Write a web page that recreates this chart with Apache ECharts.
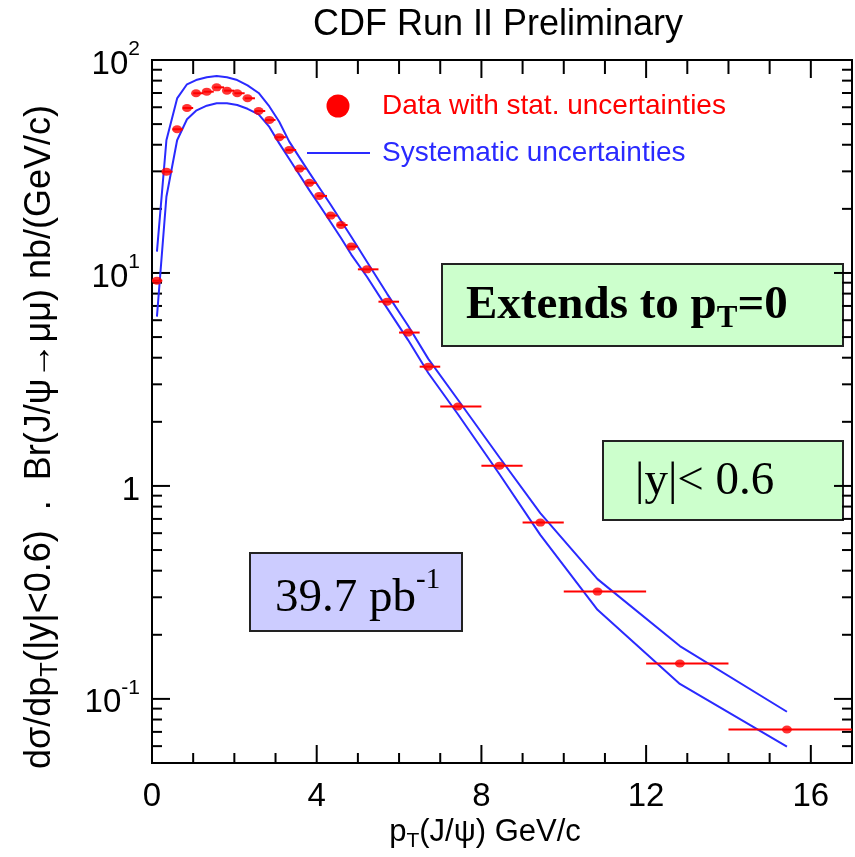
<!DOCTYPE html>
<html><head><meta charset="utf-8">
<script src="https://cdn.jsdelivr.net/npm/echarts@6/dist/echarts.min.js"></script>
<style>html,body{margin:0;padding:0;background:#fff}#c{width:855px;height:857px}</style>
</head><body><div id="c"></div>
<script>
// ---- data ----
const ptMean = [0.12,0.35,0.61,0.85,1.07,1.33,1.57,1.82,2.07,2.32,2.59,2.85,3.09,3.33,3.58,3.82,4.06,4.34,4.59,4.84,5.22,5.71,6.22,6.71,7.43,8.44,9.43,10.82,12.82,15.42];
const binLo = [0,0.25,0.5,0.75,1,1.25,1.5,1.75,2,2.25,2.5,2.75,3,3.25,3.5,3.75,4,4.25,4.5,4.75,5,5.5,6,6.5,7,8,9,10,12,14];
const binHi = [0.25,0.5,0.75,1,1.25,1.5,1.75,2,2.25,2.5,2.75,3,3.25,3.5,3.75,4,4.25,4.5,4.75,5,5.5,6,6.5,7,8,9,10,12,14,17];
const xsec = [9.2,29.9,47.3,59.5,69.8,71.0,74.4,71.8,69.8,66.1,57.6,52.3,43.4,37.8,30.9,26.5,23.0,18.6,16.8,13.3,10.4,7.33,5.25,3.63,2.36,1.245,0.673,0.319,0.1466,0.0718];
const sysUp = [12.6,42,66,76.9,80.5,83,84.1,83,80.5,76,70,60.5,51.3,41.5,34.9,29.6,25.2,20.9,17.6,14.8,11.3,7.98,5.65,3.95,2.54,1.36,0.745,0.365,0.177,0.087];
const sysDown = [6.24,22.8,42,52.7,57.8,61,62.7,62.7,61.5,59,55.5,48.5,40.6,34.4,28.9,24.5,20.9,17.3,14.6,12.2,9.6,6.84,4.84,3.39,2.17,1.135,0.589,0.262,0.1176,0.0597];
const xTicks = [1,2,3,4,5,6,7,8,9,10,11,12,13,14,15,16];
const xLabelStep = 4;
const yTicks = [0.06,0.07,0.08,0.09,0.1,0.2,0.3,0.4,0.5,0.6,0.7,0.8,0.9,1,2,3,4,5,6,7,8,9,10,20,30,40,50,60,70,80,90];
const xMin = 0, xMax = 17, yMin = 0.05, yMax = 100;

const SANS = '"Liberation Sans", Arial, Helvetica, sans-serif';
const SERIF = '"Liberation Serif", "Times New Roman", serif';
const BLUE = '#2a2aff';
const RED = '#ff0000';

const chart = echarts.init(document.getElementById('c'), null, {renderer: 'canvas'});

function isMajorX(v){ return v % xLabelStep === 0; }
function isMajorY(v){ const l = Math.log10(v); return Math.abs(l - Math.round(l)) < 1e-6; }

const option = {
  animation: false,
  backgroundColor: '#fff',
  grid: {left: 152, top: 60, right: 2, bottom: 94, show: true, borderColor: '#000', borderWidth: 2, backgroundColor: 'transparent'},
  xAxis: [{
    type: 'value', min: xMin, max: xMax, interval: xLabelStep,
    axisLine: {show: false}, axisTick: {show: false}, splitLine: {show: false},
    axisLabel: {
      margin: 17, fontSize: 33, color: '#000', fontFamily: SANS,
      formatter: v => (v % xLabelStep === 0 ? String(v) : '')
    }
  }],
  yAxis: [{
    type: 'log', logBase: 10, min: yMin, max: yMax,
    axisLine: {show: false}, axisTick: {show: false}, splitLine: {show: false},
    axisLabel: {
      margin: 12, color: '#000', fontFamily: SANS,
      formatter: v => {
        if (!isMajorY(v)) return '';
        const e = Math.round(Math.log10(v));
        if (e === 0) return '{b|1}';
        return '{b|10}{s|' + (e < 0 ? '-' + (-e) : e) + '}';
      },
      rich: {
        b: {fontSize: 33, fontFamily: SANS, color: '#000', lineHeight: 42, verticalAlign: 'bottom'},
        s: {fontSize: 21, fontFamily: SANS, color: '#000', lineHeight: 21, verticalAlign: 'top'}
      }
    }
  }],
  series: [
    { // y ticks (left + right), from the log scale
      type: 'custom', coordinateSystem: 'cartesian2d', silent: true, clip: false,
      encode: {x: 0, y: 1},
      data: yTicks.map(v => [xMin, v]),
      renderItem: (params, api) => {
        const v = api.value(1);
        const pl = api.coord([xMin, v]);
        const pr = api.coord([xMax, v]);
        const len = isMajorY(v) ? 18 : 10;
        const st = {stroke: '#000', lineWidth: 2};
        return {type: 'group', children: [
          {type: 'line', shape: {x1: pl[0], y1: pl[1], x2: pl[0] + len, y2: pl[1]}, style: st},
          {type: 'line', shape: {x1: pr[0], y1: pr[1], x2: pr[0] - len, y2: pr[1]}, style: st}
        ]};
      }
    },
    { // x ticks (bottom + top)
      type: 'custom', coordinateSystem: 'cartesian2d', silent: true, clip: false,
      encode: {x: 0, y: 1},
      data: xTicks.map(v => [v, yMin]),
      renderItem: (params, api) => {
        const v = api.value(0);
        const pb = api.coord([v, yMin]);
        const pt = api.coord([v, yMax]);
        const major = isMajorX(v);
        const st = {stroke: '#000', lineWidth: 2};
        return {type: 'group', children: [
          {type: 'line', shape: {x1: pb[0], y1: pb[1], x2: pb[0], y2: pb[1] - (major ? 18 : 10)}, style: st},
          {type: 'line', shape: {x1: pt[0], y1: pt[1], x2: pt[0], y2: pt[1] + (major ? 18 : 14)}, style: st}
        ]};
      }
    },
    {
      name: 'sysUp', type: 'line', data: ptMean.map((x, i) => [x, sysUp[i]]),
      showSymbol: false, symbol: 'none', lineStyle: {color: BLUE, width: 2}, z: 3
    },
    {
      name: 'sysDown', type: 'line', data: ptMean.map((x, i) => [x, sysDown[i]]),
      showSymbol: false, symbol: 'none', lineStyle: {color: BLUE, width: 2}, z: 3
    },
    { // horizontal bin-width bars
      type: 'custom', coordinateSystem: 'cartesian2d', silent: true, clip: true, z: 4,
      encode: {x: 0, y: 1},
      data: ptMean.map((x, i) => [x, xsec[i], binLo[i], binHi[i]]),
      renderItem: (params, api) => {
        const y = api.value(1);
        const a = api.coord([api.value(2), y]);
        const b = api.coord([api.value(3), y]);
        return {type: 'line', shape: {x1: a[0], y1: a[1], x2: b[0], y2: b[1]}, style: {stroke: RED, lineWidth: 2}};
      }
    },
    {
      name: 'data', type: 'scatter', data: ptMean.map((x, i) => [x, xsec[i]]),
      symbol: 'circle', symbolSize: [10, 8], itemStyle: {color: RED}, z: 5
    }
  ],
  graphic: [
    {type: 'text', x: 498, y: 25, style: {text: 'CDF Run II Preliminary', font: '36px ' + SANS, fill: '#000', align: 'center', verticalAlign: 'middle'}},
    // legend
    {type: 'circle', shape: {cx: 338, cy: 106, r: 11.5}, style: {fill: RED}},
    {type: 'text', x: 382, y: 106, style: {text: 'Data with stat. uncertainties', font: '28px ' + SANS, fill: RED, verticalAlign: 'middle'}},
    {type: 'line', shape: {x1: 307, y1: 153, x2: 370, y2: 153}, style: {stroke: BLUE, lineWidth: 2}},
    {type: 'text', x: 382, y: 153, style: {text: 'Systematic uncertainties', font: '28px ' + SANS, fill: BLUE, verticalAlign: 'middle'}},
    // boxes
    {type: 'rect', shape: {x: 442, y: 264, width: 401, height: 82}, style: {fill: '#ccffcc', stroke: '#222', lineWidth: 2}},
    {type: 'text', x: 466, y: 306, style: {
      text: '{a|Extends to p}{t|T}{a|=0}', verticalAlign: 'middle',
      rich: {
        a: {fontSize: 47, fontWeight: 'bold', fontFamily: SERIF, color: '#000', lineHeight: 56, verticalAlign: 'middle'},
        t: {fontSize: 31, fontWeight: 'bold', fontFamily: SERIF, color: '#000', lineHeight: 31, verticalAlign: 'bottom'}
      }
    }},
    {type: 'rect', shape: {x: 603, y: 441, width: 240, height: 79}, style: {fill: '#ccffcc', stroke: '#222', lineWidth: 2}},
    {type: 'text', x: 635, y: 482, style: {text: '|y|< 0.6', font: '47px ' + SERIF, fill: '#000', verticalAlign: 'middle'}},
    {type: 'rect', shape: {x: 250, y: 553, width: 212, height: 78}, style: {fill: '#ccccff', stroke: '#222', lineWidth: 2}},
    {type: 'text', x: 275, y: 594, style: {
      text: '{a|39.7 pb}{s|-1}', verticalAlign: 'middle',
      rich: {
        a: {fontSize: 47, fontFamily: SERIF, color: '#000', lineHeight: 56, verticalAlign: 'bottom'},
        s: {fontSize: 29, fontFamily: SERIF, color: '#000', lineHeight: 42, verticalAlign: 'top'}
      }
    }},
    // axis titles
    {type: 'text', x: 485, y: 832, style: {
      text: '{a|p}{t|T}{a|(J/ψ) GeV/c}', align: 'center', verticalAlign: 'middle',
      rich: {
        a: {fontSize: 31, fontFamily: SANS, color: '#000', lineHeight: 40, verticalAlign: 'middle'},
        t: {fontSize: 21, fontFamily: SANS, color: '#000', lineHeight: 21, verticalAlign: 'bottom'}
      }
    }},
    {type: 'text', x: 40, y: 437, rotation: Math.PI / 2, style: {
      text: '{a|dσ/dp}{t|T}{a|(|y|<0.6)  .  Br(J/ψ→μμ) nb/(GeV/c)}', align: 'center', verticalAlign: 'middle',
      rich: {
        a: {fontSize: 36, fontFamily: SANS, color: '#000', lineHeight: 44, verticalAlign: 'middle'},
        t: {fontSize: 24, fontFamily: SANS, color: '#000', lineHeight: 24, verticalAlign: 'bottom'}
      }
    }}
  ]
};
chart.setOption(option);
</script>
</body></html>
